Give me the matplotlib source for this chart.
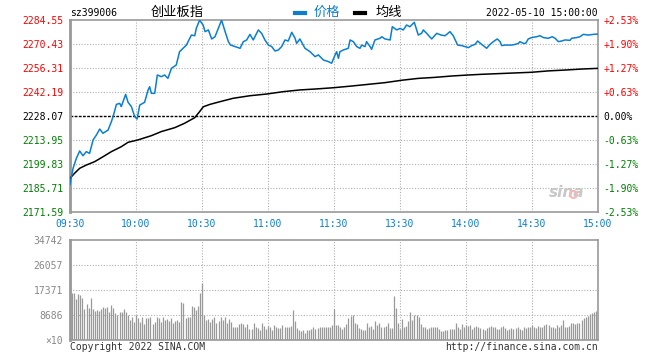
import numpy as np
import matplotlib
matplotlib.use("Agg")
import matplotlib.pyplot as plt
from matplotlib.lines import Line2D

# minutes since 09:30 (lunch break collapsed), index level
price_t = [0, 1.4, 2.9, 4.4, 5.9, 7.4, 8.9, 10.5, 12.0, 13.5, 15.0, 17.3, 18.8, 19.8, 21.1,
           22.6, 23.3, 24.1, 25.3, 26.4, 27.9, 29.4, 30.5, 31.7, 33.9, 35.5, 36.2, 37.0, 38.5,
           39.7, 41.5, 43.0, 44.5, 45.3, 46.1, 48.3, 49.8, 51.4, 52.9, 55.2, 56.7, 57.4, 58.9,
           60.5, 61.4, 62.9, 64.4, 65.9, 67.4, 68.9, 70.5, 72.0, 73.0, 75.0, 77.3, 78.8, 80.3,
           81.8, 83.3, 85.6, 87.1, 88.6, 90.2, 91.7, 93.2, 94.7, 96.2, 97.7, 99.2, 100.8, 102.3,
           103.0, 104.5, 106.8, 109.1, 111.4, 112.9, 115.2, 117.4, 118.9, 120.5, 121.2, 122.0,
           122.7, 124.2, 126.5, 127.3, 128.8, 130.3, 131.8, 132.6, 134.1, 134.8, 136.4, 137.1,
           138.6, 140.9, 141.7, 143.2, 145.5, 146.5, 148.5, 150.0, 151.5, 153.0, 154.5, 156.5,
           157.6, 158.3, 159.8, 160.6, 162.1, 164.4, 166.7, 168.6, 170.5, 172.7, 174.2, 176.2,
           178.0, 179.5, 181.1, 182.6, 184.1, 185.3, 187.1, 189.4, 190.9, 192.4, 194.2, 195.5,
           196.2, 197.7, 200.8, 202.3, 203.8, 204.5, 206.1, 207.1, 208.3, 209.8, 212.1, 213.6,
           215.2, 217.4, 219.2, 220.5, 222.0, 223.5, 225.0, 227.3, 228.0, 230.3, 231.8, 233.3,
           235.6, 237.9, 240]
price = [2187.9, 2197.3, 2203.2, 2207.5, 2204.7, 2207.1, 2206.1, 2214.0, 2216.9, 2220.4, 2217.9,
         2219.8, 2224.7, 2228.7, 2234.9, 2235.5, 2233.6, 2236.5, 2240.8, 2236.1, 2233.6, 2227.7,
         2226.3, 2234.5, 2236.1, 2243.4, 2245.3, 2241.4, 2241.4, 2252.2, 2251.2, 2252.2, 2250.2,
         2253.2, 2256.1, 2258.1, 2265.9, 2267.9, 2269.8, 2275.7, 2275.3, 2279.6, 2284.5, 2281.6,
         2277.7, 2278.7, 2273.4, 2274.7, 2279.6, 2284.5, 2277.7, 2271.8, 2269.8, 2268.9, 2267.9,
         2271.8, 2272.8, 2276.1, 2272.8, 2278.7, 2276.7, 2272.8, 2269.8, 2268.9, 2266.3, 2266.9,
         2268.9, 2272.8, 2272.2, 2277.3, 2273.8, 2270.8, 2273.4, 2267.9, 2265.9, 2263.0, 2264.0,
         2261.0, 2260.1, 2259.1, 2264.0, 2265.9, 2262.0, 2265.9, 2266.9, 2267.9, 2272.8, 2271.8,
         2268.9, 2267.9, 2269.8, 2268.9, 2271.8, 2268.9, 2267.3, 2272.8, 2273.8, 2274.7, 2273.4,
         2272.8, 2280.6, 2278.7, 2279.6, 2278.7, 2281.6, 2280.6, 2283.2, 2278.7, 2275.7, 2276.7,
         2278.7, 2276.7, 2273.4, 2276.7, 2275.7, 2275.3, 2277.7, 2275.3, 2269.8, 2269.5, 2268.9,
         2268.3, 2269.5, 2270.2, 2272.2, 2270.2, 2267.9, 2270.2, 2271.8, 2273.4, 2271.8, 2269.5,
         2269.8, 2269.8, 2270.2, 2270.8, 2271.8, 2270.8, 2270.8, 2273.4, 2274.2, 2274.7, 2275.3,
         2274.2, 2273.8, 2274.7, 2273.8, 2271.8, 2272.2, 2272.8, 2272.6, 2273.8, 2274.2, 2274.7,
         2276.1, 2275.7, 2276.1, 2276.3]

avg_t = [0, 2.1, 4.4, 7.4, 11.2, 15.0, 18.8, 23.3, 26.4, 30.9, 37.0, 41.5, 47.6, 52.1, 56.7,
         58.9, 60.6, 63.6, 68.2, 74.2, 81.8, 89.4, 97.0, 104.5, 112.1, 119.7, 128.0, 135.6,
         143.2, 150.8, 158.3, 165.9, 173.5, 181.1, 187.1, 194.7, 202.3, 209.8, 217.4, 225.0,
         232.6, 240]
avg = [2191.4, 2194.4, 2197.3, 2199.2, 2201.2, 2204.1, 2207.1, 2210.0, 2212.6, 2214.0, 2216.5,
       2218.9, 2221.2, 2223.8, 2227.1, 2230.6, 2233.5, 2234.9, 2236.5, 2238.5, 2240.0, 2241.0,
       2242.4, 2243.4, 2244.0, 2244.7, 2245.7, 2246.7, 2247.7, 2249.1, 2250.2, 2250.8, 2251.6,
       2252.2, 2252.6, 2253.0, 2253.4, 2253.8, 2254.6, 2255.1, 2255.7, 2256.1]

# volume per bar (x10)
volume = [23160, 16444, 16212, 14128, 15980, 15633, 14475, 10885, 12506, 11001, 14475, 10769,
          10075, 10422, 10190, 10885, 11348, 11001, 11348, 9611, 12159, 11001, 9264, 8685, 9843,
          9843, 10885, 9843, 8685, 6948, 7874, 6369, 8685, 7527, 6369, 7874, 5558, 7527, 7527,
          7874, 5443, 6369, 7874, 7527, 6369, 7874, 6948, 7295, 6716, 7527, 5790, 6716, 6948,
          6369, 13317, 12970, 7527, 7874, 8106, 11812, 11580, 10422, 11812, 16212, 19686, 8685,
          6948, 7180, 6369, 7180, 7874, 6022, 6716, 7874, 6948, 7874, 6022, 7180, 6369, 4632,
          4632, 4400, 5558, 6022, 5558, 4400, 5558, 3706, 3706, 5790, 4632, 4053, 3474, 6022,
          4864, 3706, 4864, 4632, 3474, 5211, 4400, 4053, 4053, 5211, 4400, 4632, 4632, 4864,
          10422, 6716, 4053, 3474, 3242, 3474, 2548, 3474, 3474, 3706, 4400, 3706, 4053, 4632,
          4632, 4632, 4400, 4632, 4632, 5211,
          10769, 5211, 5211, 4632, 3706, 4632, 5443, 7527, 8338, 8685, 6022, 5558, 4053, 3706,
          3474, 3474, 5790, 4632, 4864, 3706, 6716, 5211, 5790, 4400, 4632, 4864, 6022, 4053,
          4053, 15286, 11001, 6022, 3706, 7180, 4632, 4864, 6716, 9727, 6948, 8685, 8685, 8106,
          5558, 4400, 4632, 3706, 4053, 4400, 4632, 4400, 4400, 3706, 3242, 3242, 3474, 3474,
          3706, 3706, 3706, 6022, 4400, 3706, 5558, 4632, 5211, 4864, 5211, 3821, 4632, 4864,
          4632, 4053, 3706, 3474, 4053, 4632, 4864, 4400, 4632, 3706, 3706, 4632, 4864, 4053,
          3474, 3706, 4053, 3706, 4053, 4400, 3706, 3474, 4400, 4053, 4632, 4632, 5211, 4632,
          4053, 4864, 4632, 4400, 5211, 5558, 5211, 4632, 4400, 4053, 5211, 4400, 5211, 6948,
          4632, 4400, 4864, 5790, 5790, 5558, 5790, 6022, 6948, 7527, 7874, 8338, 9032, 9496,
          9843, 10190, 579]

price_ticks = [2171.59, 2185.71, 2199.83, 2213.95, 2228.07, 2242.19, 2256.31, 2270.43, 2284.55]
pct_labels = ["-2.53%", "-1.90%", "-1.27%", "-0.63%", "0.00%", "+0.63%", "+1.27%", "+1.90%", "+2.53%"]
time_ticks = [0, 30, 60, 90, 120, 150, 180, 210, 240]
time_labels = ["09:30", "10:00", "10:30", "11:00", "11:30", "13:30", "14:00", "14:30", "15:00"]
vol_ticks = [0, 8686, 17371, 26057, 34742]
vol_labels = ["×10", "8686", "17371", "26057", "34742"]

W, H = 660, 360
BLUE = "#0a7fd2"
RED = "#ff0000"
GREEN = "#008000"
FRAME = "#999999"
GRID = "#b0b0b0"
MONO = "DejaVu Sans Mono"
CJK = ["Noto Sans CJK SC", "DejaVu Sans"]

fig = plt.figure(figsize=(W / 100, H / 100), dpi=100)


def box(l, t, r, b):
    return [l / W, 1 - b / H, (r - l) / W, (b - t) / H]


ax = fig.add_axes(box(70, 20, 598, 212))
axv = fig.add_axes(box(70, 240, 598, 340))

for a in (ax, axv):
    for s in a.spines.values():
        s.set_color(FRAME)
        s.set_linewidth(1.2)
    a.spines["left"].set_linewidth(2)
    a.set_xlim(0, 240)
    a.tick_params(length=0)
    for t in time_ticks[1:-1]:
        a.axvline(t, color=GRID, lw=0.8, ls=(0, (1, 1.5)), zorder=0)

# price panel
ax.set_ylim(price_ticks[0], price_ticks[-1])
for v in price_ticks[1:-1]:
    if v == 2228.07:
        ax.axhline(v, color="black", lw=1, ls=(0, (2, 1)), zorder=1)
    else:
        ax.axhline(v, color=GRID, lw=0.8, ls=(0, (1, 1.5)), zorder=0)

ax.plot(avg_t, avg, color="black", lw=1.1, zorder=3)
ax.plot(price_t, price, color=BLUE, lw=1.1, zorder=4)

ax.set_yticks(price_ticks)
ax.set_yticklabels([f"{v:.2f}" for v in price_ticks], fontfamily=MONO, fontsize=7)
ax.tick_params(axis="y", pad=5)
for lab, v in zip(ax.get_yticklabels(), price_ticks):
    lab.set_color(RED if v > 2228.07 else (GREEN if v < 2228.07 else "black"))

ax.set_xticks(time_ticks)
ax.set_xticklabels(time_labels, fontfamily=MONO, fontsize=7, color=BLUE)
ax.tick_params(axis="x", pad=5)

axr = ax.twinx()
axr.set_ylim(ax.get_ylim())
axr.set_yticks(price_ticks)
axr.set_yticklabels(pct_labels, fontfamily=MONO, fontsize=7)
axr.tick_params(length=0, pad=4)
for s in axr.spines.values():
    s.set_visible(False)
for lab, p in zip(axr.get_yticklabels(), pct_labels):
    lab.set_color(RED if p.startswith("+") else (GREEN if p.startswith("-") else "black"))

# watermark
ax.text(0.975, 0.06, "sina", transform=ax.transAxes, ha="right", va="bottom",
        fontsize=11, fontweight="bold", style="italic", color="#c8c8c8", zorder=2)
ax.plot([228.5], [2182.2], marker="o", ms=5, mfc="none", mec="#f4b8b8", mew=1.5, zorder=2)

# volume panel
vol_x = np.linspace(0, 240, len(volume))
axv.vlines(vol_x, 0, volume, color="#999999", lw=0.9, zorder=3)
axv.set_ylim(0, vol_ticks[-1])
for v in vol_ticks[1:-1]:
    axv.axhline(v, color=GRID, lw=0.8, ls=(0, (1, 1.5)), zorder=0)
axv.set_yticks(vol_ticks)
axv.set_yticklabels(vol_labels, fontfamily=MONO, fontsize=7, color="#888888")
axv.tick_params(axis="y", pad=5)
axv.set_xticks([])


# header / footer text in pixel coords
def ftxt(x, y, s, **kw):
    fig.text(x / W, 1 - y / H, s, va="center", **kw)


ftxt(70, 13, "sz399006", fontfamily=MONO, fontsize=7, color="black")
ftxt(151, 12, "创业板指", family=CJK, fontsize=9.5, color="black")
fig.add_artist(Line2D([295 / W, 305 / W], [1 - 13 / H] * 2, color=BLUE, lw=3, transform=fig.transFigure))
ftxt(314, 12, "价格", family=CJK, fontsize=9.5, color=BLUE)
fig.add_artist(Line2D([355 / W, 365 / W], [1 - 13 / H] * 2, color="black", lw=3, transform=fig.transFigure))
ftxt(376, 12, "均线", family=CJK, fontsize=9.5, color="black")
ftxt(598, 13, "2022-05-10 15:00:00", fontfamily=MONO, fontsize=7, color="black", ha="right")

ftxt(70, 347, "Copyright 2022 SINA.COM", fontfamily=MONO, fontsize=7, color="#333333")
ftxt(598, 347, "http://finance.sina.com.cn", fontfamily=MONO, fontsize=7, color="#333333", ha="right")

fig.savefig("out.png", dpi=100)
